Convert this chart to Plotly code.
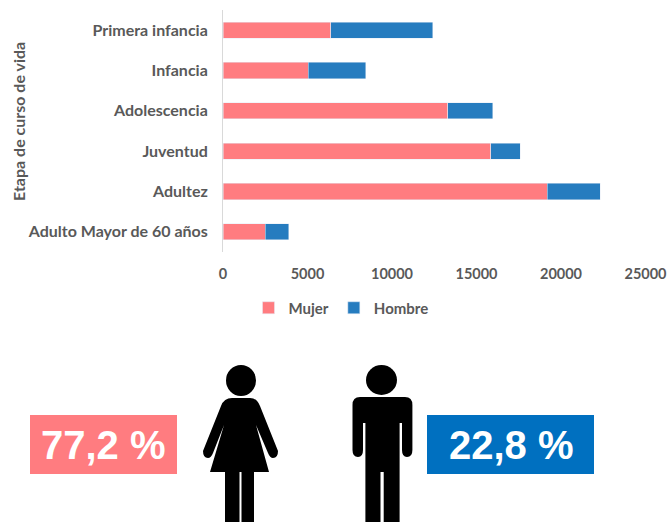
import plotly.graph_objects as go

categories = ["Primera infancia", "Infancia", "Adolescencia", "Juventud", "Adultez", "Adulto Mayor de 60 años"]
mujer = [6390, 5030, 13290, 15830, 19190, 2490]
hombre = [6010, 3410, 2660, 1760, 3140, 1400]
x_ticks = [0, 5000, 10000, 15000, 20000, 25000]
share_labels = ["77,2 %", "22,8 %"]

PINK = "#FF7C80"
BAR_BLUE = "#267CBF"
BOX_BLUE = "#0070C0"
GREY = "#595959"
W, H = 670, 522
FONT = dict(family="Lato", size=16, color=GREY, weight="bold")
X_FONT = dict(family="Lato", size=14.5, color=GREY, weight="bold")
LEGEND_FONT = dict(family="Lato", size=15, color=GREY, weight="bold")

fig = go.Figure()
fig.add_bar(y=categories, x=mujer, orientation="h", name="Mujer", marker_color=PINK)
fig.add_bar(y=categories, x=hombre, orientation="h", name="Hombre", marker_color=BAR_BLUE)
# Invisible full-canvas axes, used only to place the pictogram panel in pixels
fig.add_scatter(x=[0], y=[0], xaxis="x2", yaxis="y2", mode="markers", marker_opacity=0,
                showlegend=False, hoverinfo="skip")

woman = ("M 232 398 L 250 398 Q 257 398 260 406 L 278 451 Q 278 458 273 458 Q 270 458 268 453 "
         "L 256 425 L 269 472 L 254 472 L 254 522 L 241.5 522 L 241.5 472 L 239.5 472 L 239.5 522 "
         "L 225 522 L 225 472 L 210 472 L 224 425 L 213 453 Q 211 458 208 458 Q 203 458 203 451 "
         "L 221 406 Q 224 398 232 398 Z")
man = ("M 360 397 L 405 397 Q 412.4 397 412.4 405 L 412.4 450 Q 412.4 457 407 457 Q 402 457 402 450 "
       "L 402 423 L 399.6 423 L 399.6 522 L 383.7 522 L 383.7 472 L 380.5 472 L 380.5 522 "
       "L 365.4 522 L 365.4 423 L 363 423 L 363 450 Q 363 457 358 457 Q 352.5 457 352.5 450 "
       "L 352.5 405 Q 352.5 397 360 397 Z")
common = dict(xref="x2", yref="y2", layer="above", line_width=0)
shapes = [
    dict(type="rect", x0=30, x1=177, y0=415, y1=474, fillcolor=PINK, **common),
    dict(type="rect", x0=427, x1=594, y0=415, y1=474, fillcolor=BOX_BLUE, **common),
    dict(type="circle", x0=226, x1=256, y0=365, y1=396, fillcolor="black", **common),
    dict(type="circle", x0=366, x1=397, y0=365, y1=395, fillcolor="black", **common),
    dict(type="path", path=woman, fillcolor="black", **common),
    dict(type="path", path=man, fillcolor="black", **common),
]
share_font = dict(family="Liberation Sans", size=40, color="white", weight="bold")
annotations = [
    dict(x=103.5, y=445, text=share_labels[0], xref="x2", yref="y2", showarrow=False, font=share_font),
    dict(x=511, y=445, text=share_labels[1], xref="x2", yref="y2", showarrow=False, font=share_font),
    dict(x=18, y=122, text="Etapa de curso de vida", xref="x2", yref="y2", showarrow=False,
         textangle=-90, font=FONT),
]

fig.update_layout(
    width=W, height=H, margin=dict(l=0, r=0, t=0, b=0, autoexpand=False),
    paper_bgcolor="white", plot_bgcolor="rgba(0,0,0,0)",
    barmode="stack", bargap=0.6, font=FONT,
    shapes=shapes, annotations=annotations,
    xaxis=dict(domain=[223 / W, 645.5 / W], range=[0, 25000], tickvals=x_ticks, tickformat="d",
               automargin=False, showgrid=False, zeroline=False, showline=False, ticks="outside",
               ticklen=9, tickcolor="rgba(0,0,0,0)", tickfont=X_FONT),
    yaxis=dict(domain=[1 - 252 / H, 1 - 10 / H], autorange="reversed", automargin=False, showgrid=False,
               zeroline=False, showline=True, linecolor="#D9D9D9", linewidth=1, ticks="outside",
               ticklen=11, tickcolor="rgba(0,0,0,0)", tickfont=FONT),
    xaxis2=dict(domain=[0, 1], range=[0, W], visible=False, anchor="y2", automargin=False),
    yaxis2=dict(domain=[0, 1], range=[H, 0], visible=False, anchor="x2", automargin=False),
    legend=dict(orientation="h", traceorder="normal", x=341 / W, xanchor="center", y=1 - 308 / H,
                yanchor="middle", font=LEGEND_FONT, itemwidth=30, bgcolor="rgba(0,0,0,0)"),
)
fig.write_html("out.html", config={"displayModeBar": False},
               post_script="document.body.style.margin='0';")
